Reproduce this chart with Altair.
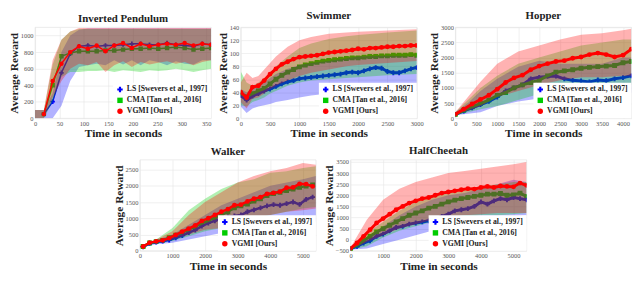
import altair as alt
import pandas as pd

SERIES = ["LS [Swevers et al., 1997]", "CMA [Tan et al., 2016]", "VGMI [Ours]"]
COLORS = ["#0000ff", "#00cc00", "#ff0000"]
SHAPES = ["cross", "square", "circle"]
FONT = "Liberation Serif"

# ---------------- Inverted Pendulum ----------------
ip_t = [18, 36, 54, 72, 90, 108, 126, 144, 162, 180, 198, 216, 234, 252, 270, 288, 306, 324, 342, 360]
ip_vgmi = [50, 450, 660, 800, 870, 840, 880, 810, 880, 910, 850, 900, 870, 890, 900, 890, 910, 880, 900, 890]
ip_cma = [50, 400, 750, 790, 810, 810, 810, 820, 820, 830, 840, 840, 850, 840, 850, 860, 850, 830, 840, 850]
ip_ls = [50, 200, 550, 780, 870, 880, 870, 880, 880, 890, 900, 900, 890, 890, 910, 890, 880, 870, 900, 890]
ip_bt = [0, 18, 36, 54, 72, 90, 108, 126, 144, 162, 180, 198, 216, 234, 252, 270, 288, 306, 324, 342, 360]
ip_vgmi_hi = [100, 100, 700, 950, 1050, 1090, 1090, 1090, 1090, 1090, 1090, 1090, 1090, 1090, 1090, 1090, 1090, 1090, 1090, 1090, 1090]
ip_vgmi_lo = [0, 0, 250, 450, 600, 660, 640, 680, 560, 640, 690, 620, 680, 650, 670, 690, 660, 680, 640, 680, 700]
ip_cma_hi = [100, 100, 650, 950, 1050, 1080, 1080, 1080, 1080, 1080, 1080, 1080, 1080, 1080, 1080, 1080, 1080, 1080, 1080, 1080, 1080]
ip_cma_lo = [0, 0, 200, 500, 560, 560, 570, 570, 580, 560, 580, 570, 560, 580, 570, 580, 600, 580, 560, 580, 600]
ip_ls_hi = [100, 100, 300, 800, 1000, 1070, 1085, 1085, 1085, 1085, 1085, 1085, 1085, 1085, 1085, 1085, 1085, 1085, 1085, 1085, 1085]
ip_ls_lo = [0, 0, 0, 150, 450, 620, 640, 660, 640, 700, 650, 700, 640, 700, 680, 640, 690, 660, 650, 700, 700]

# ---------------- Swimmer ----------------
sw_t = [0, 100, 200, 300, 400, 500, 600, 700, 800, 900, 1000, 1100, 1200, 1300, 1400, 1500,
        1600, 1700, 1800, 1900, 2000, 2100, 2200, 2300, 2400, 2500, 2600, 2700, 2800, 2900, 3000]
sw_vgmi = [40, 32, 48, 50, 58, 68, 76, 83, 87, 91, 94, 95, 96, 97, 99, 101,
           102, 103, 104, 105, 107, 106, 108, 108, 109, 110, 110, 111, 111, 112, 112]
sw_cma = [38, 33, 38, 42, 46, 53, 60, 66, 71, 75, 79, 82, 84, 86, 88, 89,
          90, 91, 92, 93, 93, 94, 95, 95, 96, 96, 97, 97, 97, 98, 97]
sw_ls = [35, 28, 34, 38, 42, 45, 49, 53, 56, 58, 61, 62, 63, 64, 65, 66,
         67, 68, 70, 71, 70, 73, 76, 78, 77, 72, 70, 70, 73, 76, 78]
sw_bt = [0, 100, 200, 300, 400, 500, 600, 800, 1000, 1200, 1500, 1800, 2000, 2500, 3000]
sw_vgmi_hi = [55, 70, 62, 65, 75, 85, 95, 110, 120, 125, 130, 132, 133, 135, 137]
sw_vgmi_lo = [25, 15, 30, 32, 38, 45, 50, 58, 65, 70, 75, 80, 82, 85, 88]
sw_cma_hi = [72, 55, 50, 55, 62, 70, 80, 95, 108, 115, 122, 126, 128, 132, 135]
sw_cma_lo = [20, 18, 25, 28, 32, 38, 42, 50, 55, 58, 60, 62, 63, 66, 68]
sw_ls_hi = [45, 40, 45, 50, 55, 62, 68, 76, 82, 85, 88, 92, 95, 96, 95]
sw_ls_lo = [18, 8, 15, 18, 20, 22, 25, 28, 32, 35, 38, 40, 40, 42, 42]

# ---------------- Hopper ----------------
ho_t = [0, 200, 400, 600, 800, 1000, 1200, 1400, 1600, 1800, 2000, 2200, 2400, 2600, 2800, 3000,
        3200, 3400, 3600, 3800, 4000, 4200]
ho_vgmi = [130, 300, 470, 620, 760, 960, 1180, 1330, 1420, 1600, 1720, 1800, 1870, 1900, 1980, 2020,
           2100, 2150, 2100, 2020, 2080, 2280]
ho_cma = [130, 260, 380, 480, 600, 750, 850, 1000, 1100, 1180, 1250, 1400, 1520, 1560, 1600, 1650,
          1680, 1700, 1720, 1740, 1830, 1870]
ho_ls = [130, 240, 340, 450, 560, 700, 900, 1000, 1100, 1300, 1350, 1380, 1390, 1300, 1250, 1230,
         1200, 1260, 1240, 1300, 1340, 1400]
ho_bt = [0, 300, 600, 1000, 1500, 2000, 2500, 3000, 3500, 4000, 4200]
ho_vgmi_hi = [200, 700, 1200, 1800, 2200, 2400, 2600, 2750, 2800, 2900, 2950]
ho_vgmi_lo = [100, 250, 400, 700, 900, 1100, 1250, 1350, 1350, 1400, 1400]
ho_cma_hi = [200, 600, 1000, 1400, 1800, 2000, 2200, 2400, 2500, 2600, 2600]
ho_cma_lo = [100, 200, 300, 400, 600, 800, 900, 1000, 1000, 1100, 1100]
ho_ls_hi = [200, 500, 900, 1300, 1700, 1900, 1800, 1800, 1800, 2000, 2000]
ho_ls_lo = [100, 150, 200, 400, 550, 650, 750, 800, 800, 850, 850]

# ---------------- Walker ----------------
wa_t = [100, 300, 500, 700, 900, 1100, 1300, 1500, 1700, 1900, 2100, 2300, 2500, 2700, 2900,
        3100, 3300, 3500, 3700, 3900, 4100, 4300, 4500, 4700, 4900, 5100, 5300]
wa_vgmi = [130, 250, 290, 320, 390, 490, 590, 680, 780, 920, 1000, 1100, 1200, 1280, 1400,
           1420, 1520, 1600, 1650, 1750, 1780, 1820, 1940, 1950, 2060, 2050, 1980]
wa_cma = [130, 240, 280, 320, 400, 480, 560, 650, 740, 840, 920, 1020, 1100, 1200, 1320,
          1380, 1440, 1530, 1600, 1700, 1760, 1800, 1850, 1900, 1950, 1990, 2030]
wa_ls = [120, 230, 270, 300, 330, 400, 470, 560, 640, 760, 850, 920, 1000, 1040, 1070,
         1100, 1200, 1260, 1320, 1380, 1420, 1400, 1450, 1500, 1430, 1580, 1650]
wa_bt = [0, 500, 1000, 1500, 2000, 2500, 3000, 3500, 4000, 4500, 5000, 5400]
wa_vgmi_hi = [150, 350, 600, 1100, 1500, 1800, 2100, 2300, 2450, 2550, 2700, 2650]
wa_vgmi_lo = [100, 250, 350, 500, 650, 700, 800, 1000, 1100, 1200, 1250, 1300]
wa_cma_hi = [150, 350, 700, 1250, 1600, 1900, 2100, 2200, 2400, 2450, 2550, 2600]
wa_cma_lo = [100, 250, 300, 450, 600, 700, 800, 950, 1100, 1200, 1300, 1350]
wa_ls_hi = [150, 330, 500, 800, 1100, 1400, 1600, 1800, 2000, 2100, 2200, 2300]
wa_ls_lo = [100, 200, 250, 350, 450, 550, 600, 700, 750, 800, 850, 900]

# ---------------- HalfCheetah ----------------
hc_t = [0, 200, 400, 600, 800, 1000, 1200, 1400, 1600, 1800, 2000, 2200, 2400, 2600,
        2800, 3000, 3200, 3400, 3600, 3800, 4000, 4200, 4400, 4600, 4800, 5000, 5200, 5400]
hc_vgmi = [-400, -150, 150, 450, 750, 950, 1150, 1350, 1500, 1650, 1750, 1850, 1900, 2000,
           2100, 2150, 2200, 2250, 2300, 2280, 2350, 2400, 2350, 2420, 2400, 2380, 2550, 2450]
hc_cma = [-400, -250, -50, 150, 350, 500, 650, 800, 950, 1100, 1200, 1300, 1420, 1500,
          1600, 1700, 1780, 1850, 1900, 1950, 2000, 2050, 2050, 2080, 2000, 2020, 2100, 1950]
hc_ls = [-400, -300, -150, -50, 150, 250, 400, 550, 600, 700, 750, 800, 850, 950,
         1050, 1150, 1300, 1350, 1400, 1500, 1700, 1600, 1750, 1850, 1800, 1900, 1850, 1800]
hc_bt = [0, 500, 1000, 1500, 2000, 2500, 3000, 3500, 4000, 4500, 5000, 5400]
hc_vgmi_hi = [-350, 900, 1800, 2300, 2600, 2800, 3000, 3100, 3200, 3300, 3400, 3500]
hc_vgmi_lo = [-450, -100, 200, 500, 700, 900, 1000, 1100, 1150, 1200, 1200, 1200]
hc_cma_hi = [-350, 300, 800, 1300, 1700, 2000, 2200, 2300, 2400, 2500, 2600, 2600]
hc_cma_lo = [-450, -300, 100, 400, 600, 800, 900, 1000, 1100, 1100, 1150, 1200]
hc_ls_hi = [-350, 100, 600, 1100, 1500, 1800, 2000, 2100, 2300, 2500, 2700, 2600]
hc_ls_lo = [-450, -400, -200, 0, 200, 400, 600, 800, 900, 1000, 1050, 1100]


def lines_df(t, ls, cma, vg):
    rows = []
    for name, vals in zip(SERIES, [ls, cma, vg]):
        for ti, v in zip(t, vals):
            rows.append({"t": ti, "v": v, "s": name})
    return pd.DataFrame(rows)


def bands_df(t, ls_lo, ls_hi, cma_lo, cma_hi, vg_lo, vg_hi):
    rows = []
    for name, lo, hi in zip(SERIES, [ls_lo, cma_lo, vg_lo], [ls_hi, cma_hi, vg_hi]):
        for ti, a, b in zip(t, lo, hi):
            rows.append({"t": ti, "lo": a, "hi": b, "s": name})
    return pd.DataFrame(rows)


def panel(title, ldf, bdf, xdom, ydom, xvals, yvals, w, h, sw=1.5, psize=20):
    xenc = alt.X("t:Q", scale=alt.Scale(domain=xdom, nice=False, zero=False),
                 axis=alt.Axis(values=xvals, title="Time in seconds", format="d"))
    yscale = alt.Scale(domain=ydom, nice=False, zero=False)
    yaxis = alt.Axis(values=yvals, title="Average Reward", format="d")
    cscale = alt.Scale(domain=SERIES, range=COLORS)
    sscale = alt.Scale(domain=SERIES, range=SHAPES)
    leg = alt.Legend(orient="bottom-right", title=None, fillColor="white", padding=3, offset=0,
                     labelFont=FONT, labelFontSize=7.8, labelFontWeight="bold", labelColor="#222",
                     symbolSize=30, rowPadding=2, labelOffset=3, symbolStrokeWidth=0)

    lines = alt.Chart(ldf)
    bands = alt.Chart(bdf)

    first = ["LS [Swevers et al., 1997]", "CMA [Tan et al., 2016]"]
    pt1 = lines.transform_filter(alt.FieldOneOfPredicate(field="s", oneOf=first)).mark_point(
        filled=True, size=psize, opacity=1, clip=True).encode(
        x=xenc, y=alt.Y("v:Q", scale=yscale, axis=yaxis),
        color=alt.Color("s:N", scale=cscale, legend=leg),
        shape=alt.Shape("s:N", scale=sscale, legend=leg))
    ln1 = lines.transform_filter(alt.FieldOneOfPredicate(field="s", oneOf=first)).mark_line(
        strokeWidth=sw, clip=True).encode(
        x=xenc, y=alt.Y("v:Q", scale=yscale, axis=yaxis),
        color=alt.Color("s:N", scale=cscale, legend=None), detail="s:N")
    ar = bands.mark_area(opacity=0.3, clip=True).encode(
        x=xenc, y=alt.Y("lo:Q", scale=yscale, axis=yaxis), y2="hi:Q",
        color=alt.Color("s:N", scale=cscale, legend=None), detail="s:N")
    ln2 = lines.transform_filter(alt.FieldEqualPredicate(field="s", equal="VGMI [Ours]")).mark_line(
        strokeWidth=sw, clip=True).encode(
        x=xenc, y=alt.Y("v:Q", scale=yscale, axis=yaxis),
        color=alt.Color("s:N", scale=cscale, legend=None))
    pt2 = lines.transform_filter(alt.FieldEqualPredicate(field="s", equal="VGMI [Ours]")).mark_point(
        filled=True, size=psize, opacity=1, clip=True).encode(
        x=xenc, y=alt.Y("v:Q", scale=yscale, axis=yaxis),
        color=alt.Color("s:N", scale=cscale, legend=None),
        shape=alt.Shape("s:N", scale=sscale, legend=None))
    return alt.layer(pt1, ln1, ar, ln2, pt2).properties(
        width=w, height=h,
        title=alt.TitleParams(title, font=FONT, fontSize=11, fontWeight="bold", color="#222", offset=3))


W, H = 178, 92
ip = panel("Inverted Pendulum", lines_df(ip_t, ip_ls, ip_cma, ip_vgmi),
           bands_df(ip_bt, ip_ls_lo, ip_ls_hi, ip_cma_lo, ip_cma_hi, ip_vgmi_lo, ip_vgmi_hi),
           [0, 360], [0, 1100], list(range(0, 351, 50)), list(range(0, 1001, 200)), W, H)
sw = panel("Swimmer", lines_df(sw_t, sw_ls, sw_cma, sw_vgmi),
           bands_df(sw_bt, sw_ls_lo, sw_ls_hi, sw_cma_lo, sw_cma_hi, sw_vgmi_lo, sw_vgmi_hi),
           [0, 3000], [0, 140], list(range(0, 3001, 500)), list(range(0, 141, 20)), W, H, 3, 24)
ho = panel("Hopper", lines_df(ho_t, ho_ls, ho_cma, ho_vgmi),
           bands_df(ho_bt, ho_ls_lo, ho_ls_hi, ho_cma_lo, ho_cma_hi, ho_vgmi_lo, ho_vgmi_hi),
           [0, 4200], [0, 3000], list(range(0, 4001, 500)), list(range(0, 3001, 500)), W, H, 3, 24)
wa = panel("Walker", lines_df(wa_t, wa_ls, wa_cma, wa_vgmi),
           bands_df(wa_bt, wa_ls_lo, wa_ls_hi, wa_cma_lo, wa_cma_hi, wa_vgmi_lo, wa_vgmi_hi),
           [0, 5400], [0, 2800], list(range(0, 5001, 1000)), list(range(0, 2501, 500)), W, H, 2.5, 24)
hc = panel("HalfCheetah", lines_df(hc_t, hc_ls, hc_cma, hc_vgmi),
           bands_df(hc_bt, hc_ls_lo, hc_ls_hi, hc_cma_lo, hc_cma_hi, hc_vgmi_lo, hc_vgmi_hi),
           [0, 5400], [-500, 3600], list(range(0, 5001, 1000)), list(range(-500, 3501, 500)), W, H, 3, 24)

top = alt.hconcat(ip, sw, ho, spacing=4).resolve_scale(color="independent", shape="independent")
bottom = alt.hconcat(wa, hc, spacing=6).resolve_scale(color="independent", shape="independent")
chart = alt.vconcat(top, bottom, spacing=4, center=True).resolve_scale(
    color="independent", shape="independent").properties(padding=0).configure_axis(
    labelFont=FONT, labelFontSize=6.5, labelColor="#555", titleFont=FONT, titleFontSize=11.5,
    titleFontWeight="bold", titleColor="#222", grid=True, gridColor="#e6e6e6", gridWidth=0.6,
    domain=False, ticks=False, labelPadding=2, titlePadding=1, labelFlush=False, labelOverlap=False
).configure_view(stroke="#dddddd", strokeWidth=0.6)

chart.save("out.html", embed_options={"renderer": "svg", "actions": False})
